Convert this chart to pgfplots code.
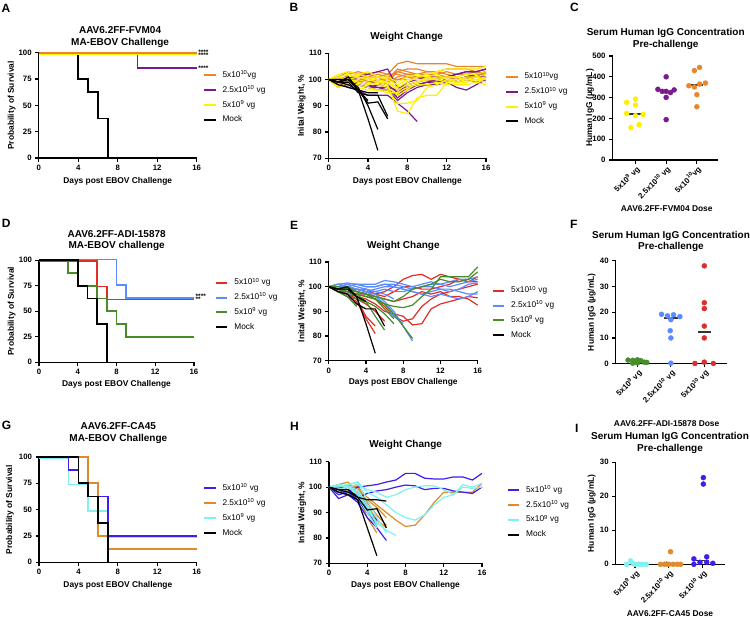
\documentclass[border=0pt]{standalone}
\usepackage{fontspec}
\setmainfont{Liberation Sans}
\usepackage{pgfplots}
\pgfplotsset{compat=1.18}

\definecolor{cO}{HTML}{E8862E}
\definecolor{cP}{HTML}{7A1A8C}
\definecolor{cY}{HTML}{FFF000}
\definecolor{cR}{HTML}{E12D28}
\definecolor{cB}{HTML}{5A8CFF}
\definecolor{cG}{HTML}{468C28}
\definecolor{cV}{HTML}{3C1EF0}
\definecolor{cO2}{HTML}{E08A2E}
\definecolor{cC}{HTML}{80F0F0}

\newcommand\wl[2]{\addplot[#1,line width=1.2pt,forget plot] table[row sep=\\,header=false,x expr=\coordindex,y index=0]{#2};}

\pgfplotsset{
  every axis title shift=0pt,
  gp/.style={
    scale only axis, axis lines*=left, tick pos=left,
    axis line style={line width=1.2pt},
    every tick/.style={line width=1.2pt, black},
    major tick length=3.5pt, tick align=outside,
    /pgf/number format/assume math mode=true,
    tick label style={font=\fontsize{7.8}{9}\selectfont\bfseries},
    label style={font=\fontsize{8.4}{10}\selectfont\bfseries},
    title style={font=\fontsize{10}{11.5}\selectfont\bfseries, align=center, anchor=center, yshift=0pt},
    clip=false,
    legend style={draw=none, fill=none, font=\fontsize{8.3}{9}\selectfont, anchor=north west,
      inner sep=0pt, outer sep=0pt, row sep=7.3pt, column sep=6pt,
      nodes={inner sep=0pt, text height=6pt, text depth=1.6pt}},
    legend cell align=left,
    legend image code/.code={\draw[##1] (0pt,0pt) -- (11.5pt,0pt);},
  },
  surv/.style={gp, xmin=0, xmax=16, ymin=0, ymax=100, xtick={0,4,...,16}, ytick={0,25,...,100},
    xlabel={Days post EBOV Challenge}, ylabel={Probability of Survival}},
  wt/.style={gp, xmin=0, xmax=16, ymin=70, ymax=110, xtick={0,4,...,16}, ytick={70,80,...,110},
    xlabel={Days post EBOV Challenge}, ylabel={Inital Weight, \%}, title={Weight Change}},
  igg/.style={gp, xtick={1,2,3},
    x tick label style={rotate=45, anchor=north east, inner sep=1pt},
    ylabel={Human IgG (µg/mL)}, title={Serum Human IgG Concentration\\Pre-challenge}},
  sl/.style={line width=1.7pt, const plot, forget plot},
  dot/.style={only marks, mark=*, mark size=2.5pt, forget plot},
  med/.style={line width=1.3pt, black!80, forget plot},
  lg/.style={line width=2pt},
}
\tikzset{st/.style={anchor=west, inner sep=0pt, xshift=1.5pt, text height=1.2pt, text depth=0pt,
  font=\fontsize{6.5}{6.5}\selectfont\bfseries}}

\begin{document}
\begin{tikzpicture}
\useasboundingbox (0pt,0pt) rectangle (750pt,-619pt);

% ---------------- Panel letters
\begin{scope}[every node/.style={font=\fontsize{12}{12}\selectfont\bfseries, anchor=west, inner sep=0pt}]
\node at (1.5pt,-8.3pt) {A};
\node at (289.3pt,-7.5pt) {B};
\node at (570pt,-7.5pt) {C};
\node at (1.7pt,-223.7pt) {D};
\node at (290pt,-225pt) {E};
\node at (570pt,-224.2pt) {F};
\node at (1.7pt,-425.8pt) {G};
\node at (290pt,-426pt) {H};
\node at (575pt,-428pt) {I};
\end{scope}

% ================= A
\begin{axis}[surv, at={(38.7pt,-158pt)}, anchor=south west, width=158pt, height=105.3pt,
  title={AAV6.2FF-FVM04\\MA-EBOV Challenge},
  title style={at={(axis description cs:0.515,1.147)}},
  xlabel style={at={(axis description cs:0.5,-0.225)}, anchor=center},
  ylabel style={at={(axis description cs:-0.171,0.5)}, anchor=center},
  legend style={at={(axis description cs:1.04,0.824)}}]
\addlegendimage{cO, lg}\addlegendentry{5x10\textsuperscript{10}vg}
\addlegendimage{cP, lg}\addlegendentry{2.5x10\textsuperscript{10} vg}
\addlegendimage{cY, lg}\addlegendentry{5x10\textsuperscript{9} vg}
\addlegendimage{black, lg}\addlegendentry{Mock}
\addplot[sl, black] coordinates {(0,100)(4,75)(5,62.5)(6,37.5)(7,0)};
\addplot[sl, cP] coordinates {(0,100)(10,85.7)(16,85.7)};
\addplot[sl, cY, yshift=-1.3pt] coordinates {(0,100)(16,100)};
\addplot[sl, cO] coordinates {(0,100)(16,100)};
\node[st] at (axis cs:16,98.6) {****};
\node[st] at (axis cs:16,96) {****};
\node[st] at (axis cs:16,83.2) {****};
\end{axis}

% ================= B
\begin{axis}[wt, at={(328.7pt,-158.3pt)}, anchor=south west, width=157.3pt, height=105pt,
  title style={at={(axis description cs:0.496,1.158)}},
  xlabel style={at={(axis description cs:0.5,-0.223)}, anchor=center},
  ylabel style={at={(axis description cs:-0.172,0.5)}, anchor=center},
  legend style={at={(axis description cs:1.121,0.813)}}]
\addlegendimage{cO, lg}\addlegendentry{5x10\textsuperscript{10}vg}
\addlegendimage{cP, lg}\addlegendentry{2.5x10\textsuperscript{10} vg}
\addlegendimage{cY, lg}\addlegendentry{5x10\textsuperscript{9} vg}
\addlegendimage{black, lg}\addlegendentry{Mock}
\wl{cO}{100\\98\\101\\102\\102\\103\\102\\106\\107\\106\\106\\106\\106\\105\\105\\105\\105\\}
\wl{cO}{100\\97\\100\\101\\101\\102\\101\\103\\104\\104\\103\\103\\104\\104\\104\\103\\104\\}
\wl{cO}{100\\99\\102\\103\\102\\101\\100\\100\\101\\101\\101\\102\\103\\102\\102\\103\\102\\}
\wl{cO}{100\\101\\103\\102\\101\\100\\99\\103\\102\\101\\100\\101\\101\\100\\101\\101\\100\\}
\wl{cO}{100\\99\\100\\100\\99\\100\\100\\104\\103\\102\\102\\102\\101\\101\\100\\101\\101\\}
\wl{cO}{100\\98\\99\\100\\100\\101\\99\\101\\102\\102\\103\\103\\102\\101\\100\\99\\101\\}
\wl{cO}{100\\100\\101\\101\\99\\98\\99\\100\\100\\100\\101\\100\\101\\102\\102\\101\\103\\}
\wl{cO}{100\\99\\98\\99\\100\\101\\102\\102\\101\\100\\100\\99\\100\\100\\101\\102\\102\\}
\wl{cP}{100\\99\\100\\101\\102\\103\\104\\97\\97\\98\\99\\100\\101\\102\\103\\103\\104\\}
\wl{cP}{100\\98\\99\\98\\97\\96\\96\\92\\95\\97\\98\\98\\99\\100\\101\\102\\103\\}
\wl{cP}{100\\99\\97\\96\\94\\94\\94\\91\\88\\84\\}
\wl{cP}{100\\100\\101\\100\\99\\99\\98\\95\\98\\99\\100\\100\\99\\97\\96\\98\\100\\}
\wl{cP}{100\\101\\100\\99\\98\\97\\97\\93\\96\\98\\99\\99\\100\\99\\100\\101\\102\\}
\wl{cP}{100\\99\\98\\98\\97\\98\\97\\96\\99\\100\\101\\101\\101\\102\\103\\103\\104\\}
\wl{cP}{100\\100\\99\\98\\97\\97\\96\\94\\97\\98\\98\\99\\100\\100\\101\\101\\101\\}
\wl{cY}{100\\101\\102\\101\\100\\99\\98\\88\\87\\93\\94\\94\\99\\100\\100\\100\\101\\}
\wl{cY}{100\\99\\98\\98\\97\\96\\96\\91\\91\\92\\97\\98\\100\\100\\101\\101\\100\\}
\wl{cY}{100\\102\\103\\102\\101\\100\\99\\97\\99\\101\\102\\103\\104\\104\\104\\104\\105\\}
\wl{cY}{100\\98\\100\\101\\100\\101\\100\\98\\100\\100\\100\\101\\101\\101\\102\\102\\103\\}
\wl{cY}{100\\99\\99\\97\\96\\96\\95\\95\\97\\98\\98\\99\\98\\99\\99\\100\\99\\}
\wl{cY}{100\\101\\100\\99\\98\\99\\99\\96\\98\\99\\100\\100\\99\\98\\98\\99\\98\\}
\wl{cY}{100\\100\\101\\102\\103\\101\\101\\99\\101\\102\\101\\100\\101\\101\\100\\101\\102\\}
\wl{cY}{100\\97\\99\\100\\99\\98\\97\\94\\96\\99\\101\\102\\100\\99\\100\\100\\100\\}
\wl{black}{100\\99\\101\\96\\85\\73\\}
\wl{black}{100\\99\\100\\97\\90\\81\\}
\wl{black}{100\\100\\100\\96\\91\\91.5\\85\\}
\wl{black}{100\\99\\99\\95\\94\\94\\86\\}
\wl{black}{100\\98\\97\\96\\95\\95\\}
\wl{black}{100\\99\\98\\96\\92\\}
\end{axis}

% ================= C
\begin{axis}[igg, at={(612.5pt,-160pt)}, anchor=south west, width=105.8pt, height=104pt,
  xmin=0.25, xmax=3.7, ymin=0, ymax=500, ytick={0,100,...,500},
  xticklabels={5x10\textsuperscript{9} vg, 2.5x10\textsuperscript{10} vg, 5x10\textsuperscript{10}vg},
  xlabel={AAV6.2FF-FVM04 Dose},
  title style={at={(axis description cs:0.503,1.165)}},
  xlabel style={at={(axis description cs:0.512,-0.471)}, anchor=center},
  ylabel style={at={(axis description cs:-0.213,0.5)}, anchor=center}]
\addplot[dot, cY] coordinates {(0.71,277)(1.0,293)(1.0,264)(0.71,224)(1.0,213)(1.25,219)(0.85,155)(1.12,170)};
\addplot[dot, cP] coordinates {(2,400)(1.73,340)(1.87,330)(2,330)(2.14,324)(2.26,337)(2,301)(2,194)};
\addplot[dot, cO] coordinates {(3.09,445)(2.92,430)(2.74,357)(2.92,351)(3.09,365)(3.28,370)(3,314)(3,256)};
\addplot[med] coordinates {(0.8,221.5)(1.2,221.5)};
\addplot[med] coordinates {(1.8,330)(2.2,330)};
\addplot[med] coordinates {(2.8,361)(3.2,361)};
\end{axis}

% ================= D
\begin{axis}[surv, at={(39pt,-362.3pt)}, anchor=south west, width=155pt, height=102pt,
  title={AAV6.2FF-ADI-15878\\MA-EBOV challenge},
  title style={at={(axis description cs:0.501,1.194)}},
  xlabel style={at={(axis description cs:0.5,-0.216)}, anchor=center},
  ylabel style={at={(axis description cs:-0.176,0.5)}, anchor=center},
  legend style={at={(axis description cs:1.135,0.818)}}]
\addlegendimage{cR, lg}\addlegendentry{5x10\textsuperscript{10} vg}
\addlegendimage{cB, lg}\addlegendentry{2.5x10\textsuperscript{10} vg}
\addlegendimage{cG, lg}\addlegendentry{5x10\textsuperscript{9} vg}
\addlegendimage{black, lg}\addlegendentry{Mock}
\addplot[sl, cB, yshift=0.8pt] coordinates {(0,100)(8,75)(9,62.5)(16,62.5)};
\addplot[sl, cR, yshift=-0.8pt] coordinates {(0,100)(6,75)(7,62.5)(16,62.5)};
\addplot[sl, cG] coordinates {(0,100)(3,87.5)(4,75)(6,62.5)(7,50)(8,37.5)(9,25)(16,25)};
\addplot[sl, black] coordinates {(0,100)(4,75)(5,62.5)(6,37.5)(7,0)};
\node[st] at (axis cs:16,63) {****};
\node[st] at (axis cs:16,59.8) {**};
\end{axis}

% ================= E
\begin{axis}[wt, at={(328.7pt,-360.7pt)}, anchor=south west, width=149pt, height=98.7pt,
  title style={at={(axis description cs:0.501,1.162)}},
  xlabel style={at={(axis description cs:0.5,-0.223)}, anchor=center},
  ylabel style={at={(axis description cs:-0.177,0.5)}, anchor=center},
  legend style={at={(axis description cs:1.094,0.748)}}]
\addlegendimage{cR, lg}\addlegendentry{5x10\textsuperscript{10} vg}
\addlegendimage{cB, lg}\addlegendentry{2.5x10\textsuperscript{10} vg}
\addlegendimage{cG, lg}\addlegendentry{5x10\textsuperscript{9} vg}
\addlegendimage{black, lg}\addlegendentry{Mock}
\wl{cR}{100\\99\\97\\96\\95\\93\\90\\89\\88\\84.5\\85\\91\\93\\94\\95\\96\\95.5\\}
\wl{cR}{100\\98\\98\\97\\96\\95\\92\\88\\86\\87\\92\\95\\97\\98\\99\\100\\101\\}
\wl{cR}{100\\101\\100\\99\\98\\97\\98\\100\\103\\104.5\\105\\103\\105\\104\\103\\102\\104\\}
\wl{cR}{100\\99\\99\\98\\99\\97\\96\\98\\100\\100\\99\\99\\100\\101\\103\\102\\102\\}
\wl{cR}{100\\98\\98\\97\\97\\96\\95\\94\\95\\96\\98\\97\\98\\96\\96\\95\\92.5\\}
\wl{cR}{100\\98\\96\\94\\87\\81\\}
\wl{cR}{100\\99\\97\\95\\88\\84\\}
\wl{cR}{100\\98\\97\\95\\93\\90\\86\\}
\wl{cB}{100\\99\\100\\99\\98\\97\\94\\90\\84\\78\\}
\wl{cB}{100\\99\\98\\99\\98\\96\\93\\88\\85\\}
\wl{cB}{100\\100\\101\\100\\99\\98\\97\\95\\}
\wl{cB}{100\\101\\101.5\\101\\101\\101\\102.5\\102\\101\\100\\101\\102\\101\\102\\103\\103\\104\\}
\wl{cB}{100\\100\\100\\101\\100\\100\\101\\101\\100\\99\\100\\101\\101\\100\\101\\102\\103\\}
\wl{cB}{100\\99\\100\\101\\100\\100\\101\\100\\99\\98\\97\\98\\99\\99\\98\\97\\97\\}
\wl{cB}{100\\98\\97\\97\\98\\99\\100\\100\\99\\98\\97\\96\\97\\96\\95\\96\\98\\}
\wl{cB}{100\\101\\100\\99\\99\\98\\99\\98\\98\\99\\100\\100\\99\\98\\99\\101\\101.5\\}
\wl{cG}{100\\99\\100\\98\\97\\95\\93\\92\\91.5\\92.5\\96\\99\\104\\104\\104\\104\\108\\}
\wl{cG}{100\\100\\99\\98\\97\\96\\95\\94\\96\\99\\100\\101\\103\\102\\102\\103\\106\\}
\wl{cG}{100\\98\\96\\92\\}
\wl{cG}{100\\99\\98\\96\\93\\}
\wl{cG}{100\\99\\98\\97\\94\\88\\82.4\\}
\wl{cG}{100\\98\\96\\95\\94\\92\\89\\85\\}
\wl{cG}{100\\99\\98\\97\\96\\95\\93\\89\\84\\79\\}
\wl{cG}{100\\99\\99\\98\\97\\95\\91\\87\\}
\wl{black}{100\\99\\100\\96\\85\\73\\}
\wl{black}{100\\98\\97\\93\\91\\91\\84\\}
\wl{black}{100\\99\\99\\96\\94\\}
\end{axis}

% ================= F
\begin{axis}[igg, at={(615.7pt,-363.7pt)}, anchor=south west, width=111pt, height=103pt,
  xmin=0.35, xmax=3.67, ymin=0, ymax=40, ytick={0,10,...,40},
  xticklabels={5x10\textsuperscript{9} vg, 2.5x10\textsuperscript{10} vg, 5x10\textsuperscript{10} vg},
  xlabel={AAV6.2FF-ADI-15878 Dose},
  title style={at={(axis description cs:0.498,1.188)}},
  xlabel style={at={(axis description cs:0.459,-0.579)}, anchor=center},
  ylabel style={at={(axis description cs:-0.216,0.5)}, anchor=center}]
\addplot[dot, cG] coordinates {(0.72,1.4)(0.86,1.3)(1.0,0.3)(1.1,1.2)(0.86,0.2)(1.0,1.5)(1.2,0.6)(1.28,0.5)};
\addplot[dot, cB] coordinates {(1.72,19.2)(1.9,18.6)(2.08,19.0)(2.27,18.3)(2.0,17.1)(1.98,12.8)(2,10)(2,0.2)};
\addplot[dot, cR] coordinates {(3,38)(3,23.7)(3,21.4)(3,14.6)(3,10)(2.72,0.1)(3,0.6)(3.27,0.1)};
\addplot[med] coordinates {(0.8,0.9)(1.2,0.9)};
\addplot[med] coordinates {(1.8,17.7)(2.2,17.7)};
\addplot[med] coordinates {(2.8,12.3)(3.2,12.3)};
\end{axis}

% ================= G
\begin{axis}[surv, at={(39pt,-562.3pt)}, anchor=south west, width=157.7pt, height=105.3pt,
  title={AAV6.2FF-CA45\\MA-EBOV Challenge},
  title style={at={(axis description cs:0.503,1.225)}},
  xlabel style={at={(axis description cs:0.5,-0.222)}, anchor=center},
  ylabel style={at={(axis description cs:-0.184,0.5)}, anchor=center},
  legend style={at={(axis description cs:1.04,0.739)}}]
\addlegendimage{cV, lg}\addlegendentry{5x10\textsuperscript{10} vg}
\addlegendimage{cO2, lg}\addlegendentry{2.5x10\textsuperscript{10} vg}
\addlegendimage{cC, lg}\addlegendentry{5x10\textsuperscript{9} vg}
\addlegendimage{black, lg}\addlegendentry{Mock}
\addplot[sl, cC, yshift=-1.3pt] coordinates {(0,100)(3,75)(5,50)(7,25)(16,25)};
\addplot[sl, cV] coordinates {(0,100)(3,87.5)(4,75)(5,62.5)(7,25)(16,25)};
\addplot[sl, cO2] coordinates {(0,100)(5,75)(6,25)(7,12.5)(16,12.5)};
\addplot[sl, black] coordinates {(0,100)(4,75)(5,62.5)(6,37.5)(7,0)};
\end{axis}

% ================= H
\begin{axis}[wt, at={(329pt,-563.3pt)}, anchor=south west, width=153pt, height=101.6pt,
  title style={at={(axis description cs:0.501,1.164)}},
  xlabel style={at={(axis description cs:0.5,-0.217)}, anchor=center},
  ylabel style={at={(axis description cs:-0.175,0.5)}, anchor=center},
  legend style={at={(axis description cs:1.161,0.759)}}]
\addlegendimage{cV, lg}\addlegendentry{5x10\textsuperscript{10} vg}
\addlegendimage{cO2, lg}\addlegendentry{2.5x10\textsuperscript{10} vg}
\addlegendimage{cC, lg}\addlegendentry{5x10\textsuperscript{9} vg}
\addlegendimage{black, lg}\addlegendentry{Mock}
\wl{cO2}{100\\99\\100\\99\\96\\93\\90\\87\\84.5\\85\\89\\94\\98\\98\\98\\98\\101.5\\}
\wl{cO2}{100\\100\\101\\100\\92\\85\\}
\wl{cO2}{100\\99\\100\\101\\93\\87\\84\\}
\wl{cO2}{100\\101\\102\\97\\88\\82\\}
\wl{cO2}{100\\99\\100\\98\\90\\84\\}
\wl{cO2}{100\\98\\99\\100\\94\\89\\85\\}
\wl{cO2}{100\\99\\101\\99\\91\\86\\}
\wl{cO2}{100\\100\\100\\97\\95\\92\\88\\}
\wl{cV}{100\\97\\98\\100\\100.5\\101\\102\\102.8\\105.4\\105.4\\103.5\\103.2\\103.2\\104\\104\\102.8\\105.4\\}
\wl{cV}{100\\95.5\\97\\96\\97.5\\98.5\\99\\100\\100.8\\100.5\\99\\99.5\\99.5\\98.5\\98\\97.5\\100\\}
\wl{cV}{100\\99\\97\\94\\88\\84\\79\\}
\wl{cV}{100\\99\\98\\95\\90\\85\\}
\wl{cV}{100\\100\\99\\96\\92\\86\\}
\wl{cV}{100\\98\\97\\95\\91\\87\\}
\wl{cV}{100\\99\\98\\97\\93\\}
\wl{cC}{100\\100.5\\101\\102\\98\\96\\93\\90\\88\\87\\89\\93\\96\\97\\101\\100\\101.5\\}
\wl{cC}{100\\99\\100\\101\\99\\98\\96\\97\\99\\100\\100.5\\100.5\\99\\97\\100\\99.5\\100\\}
\wl{cC}{100\\99\\100\\98\\92\\86\\83\\81\\}
\wl{cC}{100\\100\\101\\102\\95\\88\\82\\}
\wl{cC}{100\\99\\98\\96\\90\\84\\}
\wl{cC}{100\\101\\100\\99\\93\\85\\}
\wl{cC}{100\\99\\100\\97\\91\\86\\}
\wl{black}{100\\99\\99\\96\\95\\95\\94.5\\}
\wl{black}{100\\99\\98\\96\\91\\91.5\\84\\}
\wl{black}{100\\98\\97\\95\\84\\73\\}
\end{axis}

% ================= I
\begin{axis}[igg, at={(615.7pt,-564.3pt)}, anchor=south west, width=109.3pt, height=102pt,
  xmin=0.43, xmax=3.66, ymin=0, ymax=30, ytick={0,10,...,30},
  xticklabels={5x10\textsuperscript{9} vg, 2.5x10\textsuperscript{10} vg, 5x10\textsuperscript{10} vg},
  xlabel={AAV6.2FF-CA45 Dose},
  title style={at={(axis description cs:0.497,1.191)}},
  xlabel style={at={(axis description cs:0.497,-0.48)}, anchor=center},
  ylabel style={at={(axis description cs:-0.22,0.5)}, anchor=center}]
\addplot[dot, cC] coordinates {(0.87,1.0)(0.75,0)(1.0,0)(1.1,0.05)(1.23,0)(1.33,0)(0.95,0.2)(1.15,0)};
\addplot[dot, cO2] coordinates {(2.05,3.7)(1.75,0)(1.87,0)(2,0)(2.13,0)(2.25,0)(2.35,0)(1.93,0.1)};
\addplot[dot, cV] coordinates {(3.02,25.5)(3.02,23.6)(2.74,1.6)(3.12,2.2)(2.74,0)(2.92,0.6)(3.12,0.6)(3.3,0.3)};
\addplot[med] coordinates {(0.8,0)(1.2,0)};
\addplot[med] coordinates {(1.8,0)(2.2,0)};
\addplot[med] coordinates {(2.8,1.1)(3.2,1.1)};
\end{axis}

\end{tikzpicture}
\end{document}
